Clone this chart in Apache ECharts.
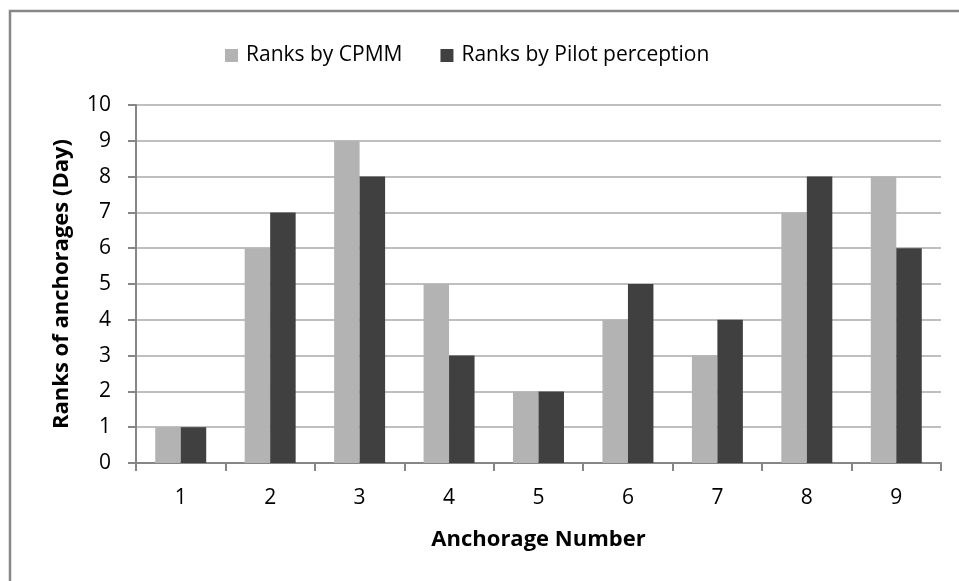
<!DOCTYPE html>
<html><head><meta charset="utf-8">
<script src="https://cdn.jsdelivr.net/npm/echarts@6/dist/echarts.min.js"></script>
<style>html,body{margin:0;padding:0;background:#fff}#c{width:959px;height:581px}</style>
</head><body><div id="c"></div>
<script>
var categories = ['1','2','3','4','5','6','7','8','9'];
var cpmm = [1,6,9,5,2,4,3,7,8];
var pilot = [1,7,8,3,2,5,4,8,6];
var seriesNames = ['Ranks by CPMM','Ranks by Pilot perception'];
var FONT = '"Open Sans", "DejaVu Sans", sans-serif';
var chart = echarts.init(document.getElementById('c'), null, {renderer:'canvas'});
chart.setOption({
  animation:false,
  backgroundColor:'#fff',
  textStyle:{fontFamily:FONT},
  graphic:[{type:'rect', shape:{x:10,y:11,width:1000,height:1000}, style:{fill:'none',stroke:'#878787',lineWidth:2.5}, silent:true}],
  legend:{
    top:40, left:220, padding:5, icon:'rect', itemWidth:13, itemHeight:13, itemGap:38,
    textStyle:{fontSize:21, color:'#000', fontFamily:FONT, padding:[0,0,0,3]},
    data:seriesNames
  },
  grid:{left:136, top:105, right:18, bottom:118, containLabel:false},
  xAxis:{
    type:'category', data:categories,
    name:'Anchorage Number', nameLocation:'middle', nameGap:66,
    nameTextStyle:{fontSize:22, fontWeight:'bold', color:'#000', fontFamily:FONT},
    axisLine:{lineStyle:{color:'#868686', width:2}},
    axisTick:{show:true, length:8, lineStyle:{color:'#868686', width:2}},
    axisLabel:{fontSize:21, color:'#000', margin:25, fontFamily:FONT}
  },
  yAxis:{
    type:'value', min:0, max:10, interval:1,
    name:'Ranks of anchorages (Day)', nameLocation:'middle', nameGap:63, nameRotate:90,
    nameTextStyle:{fontSize:22, fontWeight:'bold', color:'#000', fontFamily:FONT},
    axisLine:{show:true, lineStyle:{color:'#868686', width:2}},
    axisTick:{show:true, length:8, lineStyle:{color:'#868686', width:2}},
    axisLabel:{fontSize:21, color:'#000', margin:25, fontFamily:FONT},
    splitLine:{lineStyle:{color:'#bfbfbf', width:2}}
  },
  series:[
    {name:seriesNames[0], type:'bar', data:cpmm, barGap:'0%', barCategoryGap:'43%', itemStyle:{color:'#b3b3b3'}},
    {name:seriesNames[1], type:'bar', data:pilot, barGap:'0%', barCategoryGap:'43%', itemStyle:{color:'#404040'}}
  ]
});
</script></body></html>
